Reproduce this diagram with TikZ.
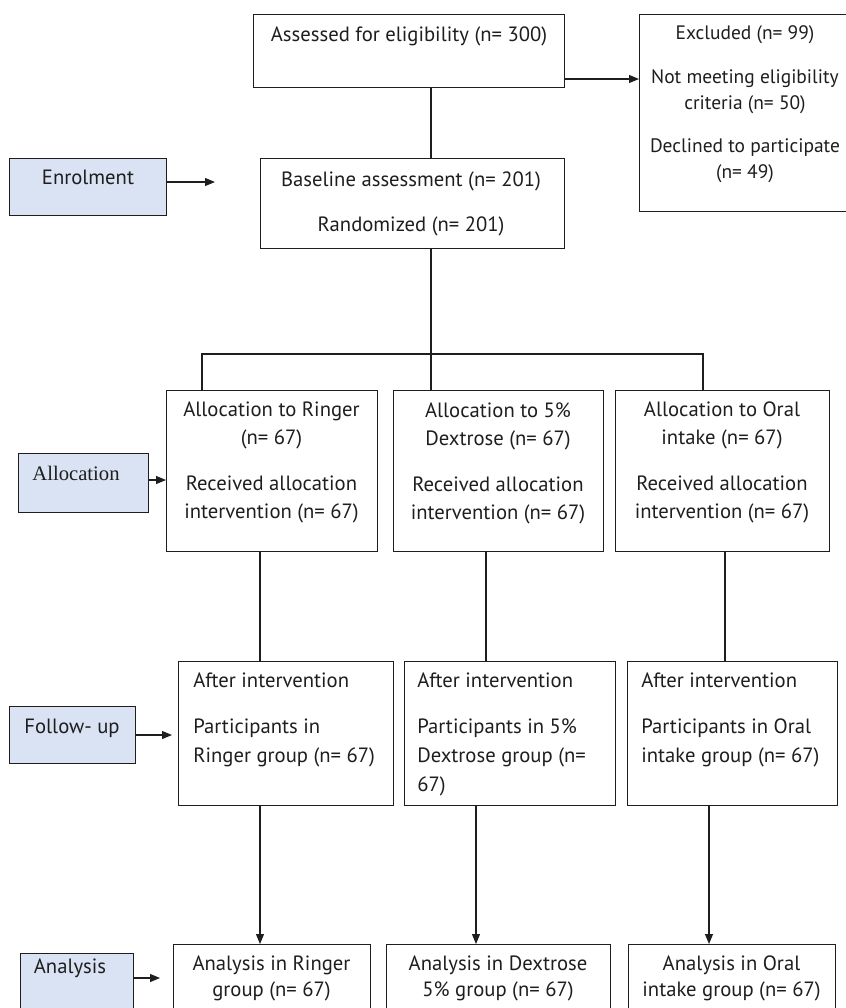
\documentclass[tikz,border=0pt]{standalone}
\usepackage{fontspec}
\setmainfont{PT Sans}
\newfontfamily\seriffam{Liberation Serif}
\usetikzlibrary{arrows.meta}
\definecolor{labelblue}{HTML}{DAE3F3}
\definecolor{ink}{HTML}{1E1E1E}
\begin{document}
\begin{tikzpicture}[x=0.75pt,y=-0.75pt,
  bx/.style args={#1/#2}{draw=ink, line width=1pt, rectangle, inner sep=0pt,
     anchor=north west, minimum width=#1*0.75pt, minimum height=#2*0.75pt},
  lab/.style={fill=labelblue},
  conn/.style={draw=ink, line width=0.85pt},
  arr/.style={conn, -{Triangle[length=7.5pt,width=6pt]}},
  txt/.style={inner sep=0pt, align=center, anchor=north, text=ink,
     font=\fontsize{15.5pt}{20pt}\selectfont},
  txte/.style={txt, font=\fontsize{14.6pt}{19.5pt}\selectfont},
  txtc/.style={txt, font=\fontsize{15.5pt}{21pt}\selectfont},
  txtl/.style={txt, align=left, anchor=north west, font=\fontsize{15.5pt}{21.5pt}\selectfont},
  txtf/.style={txt, font=\fontsize{15.5pt}{19pt}\selectfont}
]
\useasboundingbox (0,0) rectangle (846,1008);
\clip (0,0) rectangle (846,1008);

% boxes
\node[bx=311/73] (A) at (253,14) {};
\node[bx=220/197] (E) at (639,14) {};
\node[bx=304/90] (B) at (260,158) {};
\node[bx=157/57, lab] (enrol) at (9,158) {};
\node[bx=211/161] (C1) at (166,390) {};
\node[bx=210/161] (C2) at (393,390) {};
\node[bx=214/161] (C3) at (615,390) {};
\node[bx=130/59, lab] (alloclab) at (18,453) {};
\node[bx=215/144] (D1) at (178,661) {};
\node[bx=211/144] (D2) at (404,661) {};
\node[bx=210/144] (D3) at (627,661) {};
\node[bx=126/57, lab] (fulab) at (9,706) {};
\node[bx=197/90] (F1) at (173,944) {};
\node[bx=224/90] (F2) at (386,944) {};
\node[bx=207/90] (F3) at (628,944) {};
\node[bx=113/80, lab] (anlab) at (20,953) {};

% texts
\node[txt] (At) at (409,27) {Assessed for eligibility (n= 300)};
\node[txte] (Et) at (745,25) {Excluded (n= 99)\\[13.5pt]Not meeting eligibility\\criteria (n= 50)\\[13pt]Declined to participate\\(n= 49)};
\node[txt] (Bt) at (411,172) {Baseline assessment (n= 201)\\[13.5pt]Randomized (n= 201)};
\node[txt] (enrolt) at (88,170) {Enrolment};
\node[txtc] (C1t) at (271.5,402) {Allocation to Ringer\\(n= 67)\\[13.5pt]Received allocation\\intervention (n= 67)};
\node[txtc] (C2t) at (498,402) {Allocation to 5\%\\Dextrose (n= 67)\\[13.5pt]Received allocation\\intervention (n= 67)};
\node[txtc] (C3t) at (722,402) {Allocation to Oral\\intake (n= 67)\\[13.5pt]Received allocation\\intervention (n= 67)};
\node[txt, font=\seriffam\fontsize{15.5pt}{20pt}\selectfont] (alloct) at (76,466) {Allocation};
\node[txtl] (D1t) at (193,673) {After intervention\\[13pt]Participants in\\Ringer group (n= 67)};
\node[txtl] (D2t) at (417,673) {After intervention\\[13pt]Participants in 5\%\\Dextrose group (n=\\67)};
\node[txtl] (D3t) at (641,673) {After intervention\\[13pt]Participants in Oral\\intake group (n= 67)};
\node[txt] (fut) at (72,719) {Follow- up};
\node[txtf] (F1t) at (271.5,956) {Analysis in Ringer\\group (n= 67)};
\node[txtf] (F2t) at (498,956) {Analysis in Dextrose\\5\% group (n= 67)};
\node[txtf] (F3t) at (731.5,956) {Analysis in Oral\\intake group (n= 67)};
\node[txt] (ant) at (70,959) {Analysis};

% helper coordinates
\coordinate (yAE) at (0,79);
\coordinate (vx) at (431,0);
\coordinate (hy) at (0,354);
\coordinate (xl) at (202,0);
\coordinate (xr) at (703,0);
\coordinate (enrolend) at (215,182);
\coordinate (y480) at (0,480);
\coordinate (x260) at (260,0);
\coordinate (x486) at (486,0);
\coordinate (x725) at (725,0);
\coordinate (x476) at (476,0);
\coordinate (x709) at (709,0);
\coordinate (fuend) at (172,735);
\coordinate (anend) at (160,978);

% connectors
\draw[arr] (A.east |- yAE) -- (E.west |- yAE);
\draw[conn] (A.south -| vx) -- (B.north -| vx);
\draw[arr] (enrol.east |- enrolend) -- (enrolend);
\draw[conn] (B.south -| vx) -- (C2.north -| vx);
\draw[conn] (C1.north -| xl) -- (xl |- hy) -- (xr |- hy) -- (C3.north -| xr);
\draw[arr] (alloclab.east |- y480) -- (C1.west |- y480);
\draw[conn] (C1.south -| x260) -- (D1.north -| x260);
\draw[conn] (C2.south -| x486) -- (D2.north -| x486);
\draw[conn] (C3.south -| x725) -- (D3.north -| x725);
\draw[arr] (fulab.east |- fuend) -- (fuend);
\draw[arr] (D1.south -| x260) -- (F1.north -| x260);
\draw[arr] (D2.south -| x476) -- (F2.north -| x476);
\draw[arr] (D3.south -| x709) -- (F3.north -| x709);
\draw[arr] (anlab.east |- anend) -- (anend);
\end{tikzpicture}
\end{document}
